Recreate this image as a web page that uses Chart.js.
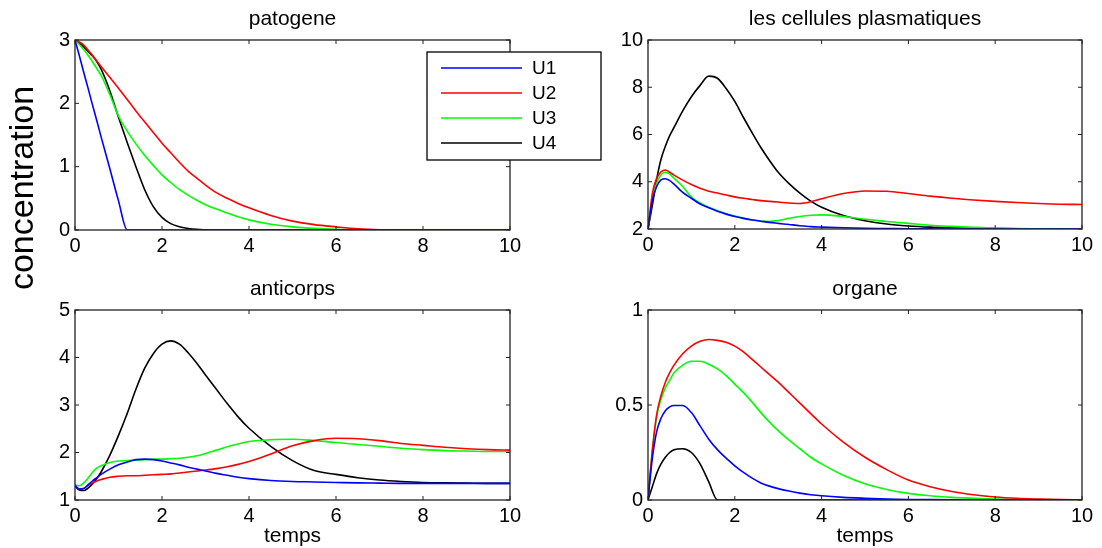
<!DOCTYPE html>
<html>
<head>
<meta charset="utf-8">
<script src="https://cdn.jsdelivr.net/npm/chart.js@4.4.0/dist/chart.umd.min.js"></script>
<style>
  html, body { margin: 0; padding: 0; background: #fff; }
  #fig { position: relative; width: 1102px; height: 548px; overflow: hidden; }
  #fig canvas { position: absolute; }
</style>
</head>
<body>
<div id="fig">
  <canvas id="cellules" width="551" height="270" style="left:551px;top:0px"></canvas>
  <canvas id="anticorps" width="551" height="278" style="left:0px;top:270px"></canvas>
  <canvas id="organe" width="551" height="278" style="left:551px;top:270px"></canvas>
  <canvas id="patogene" width="610" height="300" style="left:0px;top:0px"></canvas>
</div>
<script>
// temps commun a toutes les courbes
const temps = [0, 0.1, 0.2, 0.3, 0.4, 0.5, 0.6, 0.8, 1, 1.2, 1.4, 1.6, 1.8, 2, 2.2, 2.4, 2.6, 2.8, 3,
               3.25, 3.5, 3.75, 4, 4.5, 5, 5.5, 6, 6.5, 7, 7.5, 8, 8.5, 9, 9.5, 10];

const noms = ['U1', 'U2', 'U3', 'U4'];
const couleurs = ['#0000ff', '#ff0000', '#00ff00', '#000000'];

// patogene
const patU1 = [3, 2.75, 2.49, 2.24, 1.98, 1.73, 1.47, 0.97, 0.46, 0, 0, 0, 0, 0, 0, 0, 0, 0, 0,
               0, 0, 0, 0, 0, 0, 0, 0, 0, 0, 0, 0, 0, 0, 0, 0];
const patU2 = [3, 2.97, 2.92, 2.84, 2.76, 2.67, 2.58, 2.41, 2.24, 2.06, 1.88, 1.71, 1.54, 1.37, 1.22, 1.07, 0.93, 0.82, 0.71,
               0.59, 0.5, 0.42, 0.35, 0.23, 0.14, 0.085, 0.05, 0.02, 0.005, 0, 0, 0, 0, 0, 0];
const patU3 = [3, 2.93, 2.85, 2.76, 2.66, 2.55, 2.44, 2.14, 1.8, 1.56, 1.36, 1.18, 1.02, 0.87, 0.75, 0.64, 0.55, 0.47, 0.4,
               0.33, 0.27, 0.21, 0.16, 0.09, 0.05, 0.025, 0.01, 0.004, 0, 0, 0, 0, 0, 0, 0];
const patU4 = [3, 2.95, 2.89, 2.82, 2.75, 2.66, 2.54, 2.2, 1.78, 1.38, 1.0, 0.64, 0.37, 0.2, 0.1, 0.05, 0.025, 0.01, 0.004,
               0, 0, 0, 0, 0, 0, 0, 0, 0, 0, 0, 0, 0, 0, 0, 0];

// les cellules plasmatiques
const celU1 = [2, 3.2, 3.8, 4.08, 4.13, 4.05, 3.9, 3.55, 3.3, 3.06, 2.9, 2.75, 2.63, 2.53, 2.45, 2.38, 2.33, 2.28, 2.24,
               2.19, 2.14, 2.1, 2.08, 2.05, 2.03, 2.02, 2.01, 2.005, 2, 2, 2, 2, 2, 2, 2];
const celU2 = [2, 3.5, 4.15, 4.42, 4.5, 4.4, 4.28, 4.07, 3.88, 3.72, 3.6, 3.52, 3.44, 3.36, 3.3, 3.25, 3.2, 3.17, 3.14,
               3.1, 3.08, 3.15, 3.28, 3.5, 3.61, 3.6, 3.5, 3.39, 3.3, 3.23, 3.17, 3.12, 3.08, 3.05, 3.04];
const celU3 = [2, 3.3, 3.95, 4.3, 4.4, 4.32, 4.15, 3.8, 3.35, 3.1, 2.92, 2.77, 2.65, 2.55, 2.46, 2.39, 2.34, 2.32, 2.36,
               2.45, 2.53, 2.58, 2.6, 2.53, 2.41, 2.32, 2.24, 2.16, 2.11, 2.07, 2.04, 2.02, 2.01, 2, 2];
const celU4 = [2, 3.0, 4.1, 4.95, 5.5, 5.95, 6.3, 7.0, 7.6, 8.08, 8.47, 8.38, 7.95, 7.4, 6.72, 6.07, 5.45, 4.9, 4.4,
               3.92, 3.52, 3.18, 2.92, 2.57, 2.35, 2.21, 2.13, 2.08, 2.05, 2.03, 2.02, 2.01, 2.005, 2, 2];

// anticorps
const antU1 = [1.3, 1.23, 1.24, 1.32, 1.4, 1.47, 1.54, 1.65, 1.74, 1.8, 1.85, 1.86, 1.85, 1.82, 1.78, 1.74, 1.69, 1.65, 1.61,
               1.56, 1.52, 1.48, 1.45, 1.41, 1.39, 1.38, 1.37, 1.36, 1.355, 1.35, 1.35, 1.35, 1.35, 1.35, 1.35];
const antU2 = [1.3, 1.23, 1.24, 1.31, 1.36, 1.4, 1.43, 1.48, 1.5, 1.51, 1.51, 1.52, 1.53, 1.54, 1.55, 1.57, 1.59, 1.61, 1.63,
               1.66, 1.7, 1.75, 1.81, 1.97, 2.14, 2.25, 2.3, 2.29, 2.25, 2.19, 2.15, 2.11, 2.08, 2.06, 2.05];
const antU3 = [1.32, 1.3, 1.36, 1.46, 1.58, 1.67, 1.72, 1.79, 1.82, 1.83, 1.84, 1.85, 1.86, 1.86, 1.87, 1.88, 1.9, 1.93, 1.98,
               2.05, 2.12, 2.18, 2.23, 2.27, 2.28, 2.25, 2.21, 2.17, 2.13, 2.09, 2.06, 2.04, 2.03, 2.02, 2.02];
const antU4 = [1.3, 1.21, 1.2, 1.25, 1.34, 1.45, 1.59, 1.94, 2.36, 2.82, 3.33, 3.77, 4.08, 4.28, 4.35, 4.28, 4.1, 3.88, 3.63,
               3.33, 3.03, 2.75, 2.51, 2.13, 1.83, 1.62, 1.54, 1.47, 1.42, 1.39, 1.37, 1.36, 1.355, 1.35, 1.35];

// organe
const orgU1 = [0, 0.22, 0.36, 0.43, 0.47, 0.49, 0.497, 0.497, 0.46, 0.39, 0.32, 0.265, 0.22, 0.18, 0.145, 0.115, 0.09, 0.073, 0.06,
               0.047, 0.036, 0.028, 0.022, 0.014, 0.009, 0.005, 0.003, 0.002, 0.001, 0, 0, 0, 0, 0, 0];
const orgU2 = [0, 0.26, 0.45, 0.55, 0.62, 0.67, 0.71, 0.77, 0.81, 0.835, 0.845, 0.84, 0.83, 0.81, 0.78, 0.74, 0.7, 0.66, 0.62,
               0.565, 0.51, 0.455, 0.4, 0.305, 0.225, 0.16, 0.105, 0.07, 0.045, 0.028, 0.016, 0.009, 0.005, 0.002, 0.001];
const orgU3 = [0, 0.26, 0.44, 0.53, 0.59, 0.63, 0.67, 0.71, 0.73, 0.73, 0.715, 0.69, 0.655, 0.61, 0.565, 0.515, 0.46, 0.41, 0.365,
               0.315, 0.27, 0.225, 0.19, 0.13, 0.085, 0.055, 0.035, 0.022, 0.014, 0.009, 0.005, 0.003, 0.002, 0.001, 0];
const orgU4 = [0, 0.07, 0.14, 0.19, 0.225, 0.25, 0.265, 0.27, 0.25, 0.19, 0.095, 0, 0, 0, 0, 0, 0, 0, 0,
               0, 0, 0, 0, 0, 0, 0, 0, 0, 0, 0, 0, 0, 0, 0, 0];

Chart.defaults.font.family = '"Liberation Sans", Arial, sans-serif';
Chart.defaults.font.size = 20;
Chart.defaults.color = '#000';

// cadre style matlab : boite, graduations vers l'interieur, titres, legende
const cadre = {
  id: 'cadre',
  afterDraw(chart, args, o) {
    const ctx = chart.ctx, a = chart.chartArea;
    const sx = chart.scales.x, sy = chart.scales.y;
    const cx = (a.left + a.right) / 2;
    ctx.save();
    ctx.strokeStyle = '#222';
    ctx.lineWidth = 1.3;
    ctx.strokeRect(a.left, a.top, a.right - a.left, a.bottom - a.top);
    ctx.lineWidth = 1;
    ctx.beginPath();
    sx.ticks.forEach(t => {
      const p = sx.getPixelForValue(t.value);
      ctx.moveTo(p, a.bottom); ctx.lineTo(p, a.bottom - 4);
      ctx.moveTo(p, a.top); ctx.lineTo(p, a.top + 4);
    });
    sy.ticks.forEach(t => {
      const p = sy.getPixelForValue(t.value);
      ctx.moveTo(a.left, p); ctx.lineTo(a.left + 4, p);
      ctx.moveTo(a.right, p); ctx.lineTo(a.right - 4, p);
    });
    ctx.stroke();

    ctx.fillStyle = '#000';
    ctx.font = '21px "Liberation Sans"';
    ctx.textAlign = 'center';
    ctx.textBaseline = 'alphabetic';
    ctx.fillText(o.titre, cx, a.top - 15);
    if (o.axeX) ctx.fillText(o.axeX, cx, a.bottom + 42);
    if (o.axeY) {
      ctx.save();
      ctx.font = '34px "Liberation Sans"';
      ctx.translate(33, 188);
      ctx.rotate(-Math.PI / 2);
      ctx.fillText(o.axeY, 0, 0);
      ctx.restore();
    }
    if (o.legende) {
      const lx = a.right - 83, ly = a.top + 12, lw = 174, lh = 108;
      ctx.fillStyle = '#fff';
      ctx.fillRect(lx, ly, lw, lh);
      ctx.strokeStyle = '#000';
      ctx.lineWidth = 1.3;
      ctx.strokeRect(lx, ly, lw, lh);
      ctx.font = '19px "Liberation Sans"';
      ctx.textAlign = 'left';
      ctx.textBaseline = 'middle';
      chart.data.datasets.forEach((d, i) => {
        const y = ly + 16 + i * 25;
        ctx.strokeStyle = d.borderColor;
        ctx.lineWidth = 1.6;
        ctx.beginPath();
        ctx.moveTo(lx + 14, y);
        ctx.lineTo(lx + 95, y);
        ctx.stroke();
        ctx.fillStyle = '#000';
        ctx.fillText(d.label, lx + 105, y + 1);
      });
    }
    ctx.restore();
  }
};

function courbes(series) {
  return series.map((vals, k) => ({
    label: noms[k],
    data: temps.map((t, i) => ({ x: t, y: vals[i] })),
    borderColor: couleurs[k],
    borderWidth: 1.6,
    pointRadius: 0,
    fill: false,
    cubicInterpolationMode: 'monotone'
  }));
}

function panneau(id, series, yMin, yMax, yPas, largeurY, hauteurX, margeDroite, opts) {
  return new Chart(document.getElementById(id), {
    type: 'line',
    data: { datasets: courbes(series) },
    options: {
      responsive: false,
      animation: false,
      layout: { padding: { top: 40, right: margeDroite, left: 0, bottom: 0 } },
      scales: {
        x: {
          type: 'linear', min: 0, max: 10,
          ticks: { stepSize: 2, padding: 4, maxRotation: 0 },
          grid: { display: false, drawTicks: false }, border: { display: false },
          afterFit: s => { s.height = hauteurX; }
        },
        y: {
          type: 'linear', min: yMin, max: yMax,
          ticks: { stepSize: yPas, padding: 5, callback: v => String(v) },
          grid: { display: false, drawTicks: false }, border: { display: false },
          afterFit: s => { s.width = largeurY; }
        }
      },
      plugins: { legend: { display: false }, tooltip: { enabled: false }, cadre: opts }
    },
    plugins: [cadre]
  });
}

panneau('cellules', [celU1, celU2, celU3, celU4], 2, 10, 2, 97, 41, 20,
        { titre: 'les cellules plasmatiques' });
panneau('anticorps', [antU1, antU2, antU3, antU4], 1, 5, 1, 75, 48, 41,
        { titre: 'anticorps', axeX: 'temps' });
panneau('organe', [orgU1, orgU2, orgU3, orgU4], 0, 1, 0.5, 97, 48, 20,
        { titre: 'organe', axeX: 'temps' });
panneau('patogene', [patU1, patU2, patU3, patU4], 0, 3, 1, 75, 70, 100,
        { titre: 'patogene', axeY: 'concentration', legende: true });
</script>
</body>
</html>
